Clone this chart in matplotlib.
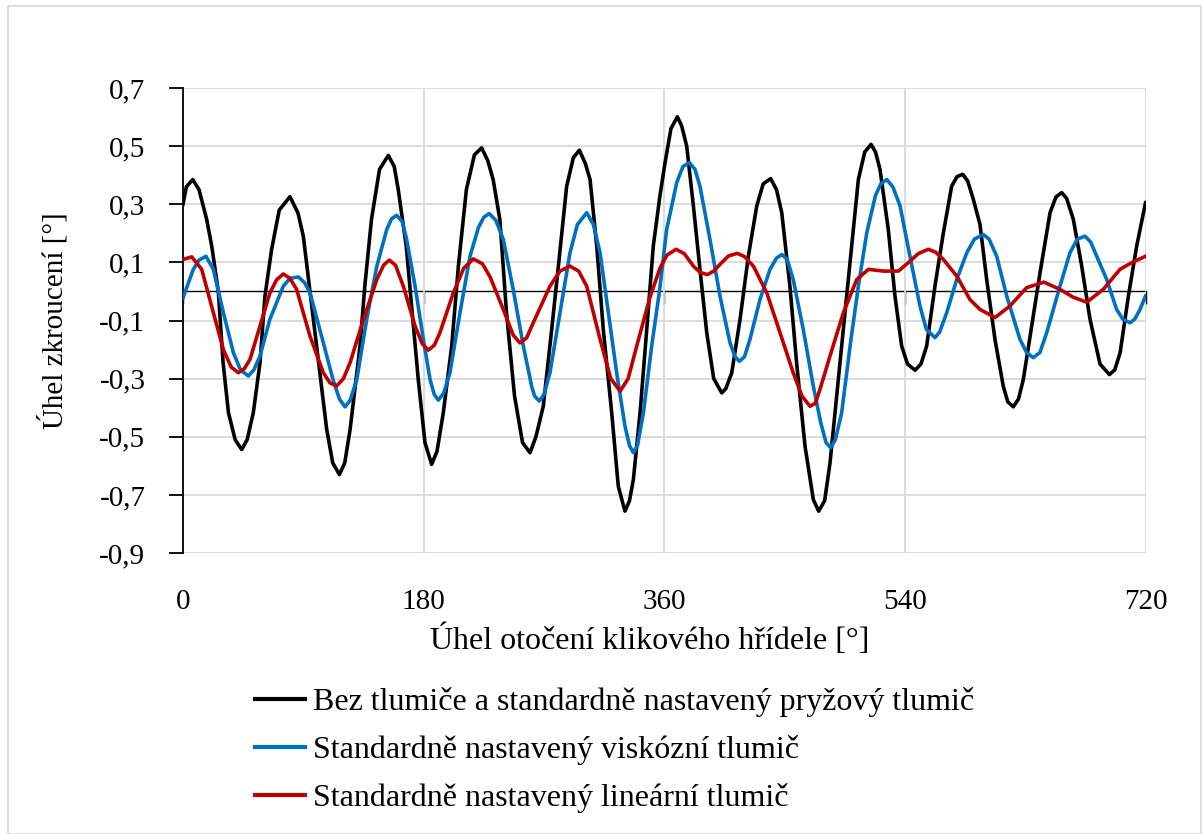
import matplotlib
matplotlib.use('Agg')
import matplotlib.pyplot as plt
from matplotlib.patches import Rectangle
from matplotlib.ticker import FuncFormatter

plt.rcParams['font.family'] = ['Liberation Serif', 'DejaVu Serif']

# data: crank angle [deg] and twist angle [deg]
black_x = [0, 2.5, 7.3, 12, 17.7, 21.5, 26.4, 30, 34, 39, 43.9, 48, 52.6, 57.6, 61.3, 66.3, 72, 80, 86, 90, 95,
           100, 107.5, 112, 117, 121, 125, 132.4, 136, 141, 147, 153.6, 158, 161, 167, 171, 176, 181, 186, 190,
           194.7, 201, 206, 212, 218, 223.4, 228, 232, 237, 242, 248, 254, 259.6, 264, 269.5, 275.8, 280.8, 287,
           292, 296.5, 301, 304.5, 309.5, 314.4, 320.7, 325.6, 330.6, 334, 336.9, 341.9, 346.9, 351.8, 356.8,
           360.6, 365, 369.8, 373, 376.8, 381.8, 386.7, 391.8, 397, 403, 406, 410.5, 416.7, 422.9, 429.2, 434,
           439.6, 444, 447.9, 454, 459, 465.3, 471.5, 475.5, 480, 484, 490.2, 495.2, 500.2, 505.2, 510, 514.7,
           518, 521.4, 527.6, 532.6, 537.6, 542, 547.6, 552, 556.3, 562.5, 568.8, 575, 579, 583.3, 587, 591.2,
           596.2, 601.2, 607.4, 613.6, 617, 621.1, 625, 628.6, 634.9, 641.1, 648.6, 653, 657.3, 661, 666, 672.3,
           678.5, 686, 693, 697, 701, 707.2, 713.4, 720]
black_y = [0.30, 0.36, 0.385, 0.35, 0.248, 0.156, 0.0, -0.245, -0.417, -0.51, -0.544, -0.51, -0.417, -0.245,
           -0.016, 0.145, 0.28, 0.326, 0.27, 0.19, 0.0, -0.188, -0.475, -0.59, -0.63, -0.59, -0.475, -0.188,
           0.018, 0.248, 0.42, 0.468, 0.43, 0.351, 0.156, -0.05, -0.303, -0.52, -0.595, -0.55, -0.418, -0.188,
           0.087, 0.351, 0.47, 0.494, 0.45, 0.385, 0.248, -0.073, -0.36, -0.52, -0.555, -0.5, -0.395, -0.131,
           0.087, 0.362, 0.46, 0.486, 0.44, 0.385, 0.156, -0.131, -0.418, -0.67, -0.756, -0.72, -0.647, -0.418,
           -0.131, 0.156, 0.33, 0.443, 0.56, 0.601, 0.57, 0.5, 0.294, 0.076, -0.142, -0.3, -0.349, -0.335,
           -0.28, -0.096, 0.121, 0.294, 0.37, 0.388, 0.35, 0.271, 0.018, -0.245, -0.532, -0.716, -0.756, -0.72,
           -0.59, -0.303, -0.073, 0.156, 0.385, 0.48, 0.506, 0.48, 0.42, 0.213, -0.016, -0.188, -0.25, -0.271,
           -0.25, -0.188, 0.018, 0.202, 0.362, 0.395, 0.403, 0.38, 0.317, 0.23, 0.041, -0.165, -0.326, -0.38,
           -0.397, -0.37, -0.303, -0.119, 0.064, 0.271, 0.325, 0.34, 0.32, 0.248, 0.087, -0.096, -0.25, -0.286,
           -0.27, -0.211, -0.016, 0.156, 0.305]

blue_x = [0, 7.7, 12, 17.2, 22.7, 30.2, 37.7, 43, 48.9, 53, 57.6, 65, 75, 80, 86.3, 91, 95, 105, 112, 117,
          121.2, 125, 130, 137.4, 145, 152.4, 156, 159.9, 164, 167.3, 173.6, 179.8, 184.8, 188, 191, 195, 199.7,
          207.2, 214.7, 221, 225, 229, 234, 239.6, 247, 254.6, 260.8, 263, 266.5, 270, 274.5, 282, 289.5, 295,
          302, 307, 312, 318.2, 324.4, 330.6, 334, 336.9, 340, 344.4, 350.6, 356.4, 361.8, 369.3, 374, 378.8,
          383, 386.7, 394.2, 401.7, 409.2, 413, 416.2, 420, 424.1, 431.6, 439.1, 444, 447.9, 452, 456.5, 464,
          471.5, 477, 481, 484.5, 488, 492.7, 499, 505.2, 511.5, 518, 522, 526.4, 531, 536.4, 543.8, 551.3, 556,
          562.5, 566, 571.3, 578.8, 586.3, 592, 598.7, 603, 608.7, 616.2, 626.1, 631, 636.1, 641, 646.1, 656,
          663.5, 669, 674.7, 679, 683.5, 691, 698.4, 703, 708.4, 712, 715.9, 720]
blue_y = [-0.022, 0.076, 0.108, 0.121, 0.076, -0.073, -0.211, -0.27, -0.291, -0.27, -0.222, -0.096, 0.018, 0.045,
          0.05, 0.03, -0.005, -0.177, -0.3, -0.37, -0.397, -0.375, -0.303, -0.096, 0.087, 0.213, 0.25, 0.262,
          0.24, 0.179, 0.018, -0.165, -0.303, -0.355, -0.374, -0.35, -0.28, -0.073, 0.121, 0.22, 0.255, 0.268,
          0.245, 0.179, 0.007, -0.188, -0.326, -0.36, -0.377, -0.355, -0.28, -0.073, 0.133, 0.23, 0.271, 0.23,
          0.133, -0.073, -0.28, -0.463, -0.53, -0.555, -0.53, -0.418, -0.188, 0.0, 0.213, 0.374, 0.43, 0.443,
          0.42, 0.362, 0.179, -0.016, -0.177, -0.225, -0.24, -0.225, -0.165, -0.028, 0.076, 0.115, 0.127, 0.11,
          0.041, -0.131, -0.326, -0.45, -0.52, -0.538, -0.51, -0.418, -0.188, 0.018, 0.202, 0.33, 0.37, 0.385,
          0.36, 0.294, 0.121, -0.05, -0.13, -0.159, -0.14, -0.073, 0.041, 0.133, 0.18, 0.196, 0.18, 0.121,
          -0.016, -0.165, -0.21, -0.228, -0.21, -0.142, 0.018, 0.133, 0.18, 0.19, 0.17, 0.121, 0.041, -0.062,
          -0.095, -0.108, -0.095, -0.062, -0.016]

red_x = [0, 6.5, 14, 22.7, 30.2, 36, 41.4, 46, 50.1, 57.6, 65, 70, 75, 80, 85, 95, 105, 110, 115, 120, 125, 135,
         145, 150, 154.3, 159, 164.8, 173.6, 179, 183.5, 188, 192.2, 202.2, 210, 217.2, 224, 229.7, 239.6, 247,
         252, 257, 262, 274.5, 282, 289.5, 296, 302, 312, 320, 327, 333, 339.4, 349.3, 356.8, 362, 368.8, 375,
         381.8, 387, 392.3, 397, 401.7, 408, 414.7, 420, 426.7, 436.7, 446.6, 456.5, 463, 469, 473, 476.5, 484,
         494, 504, 512.7, 523.9, 535.1, 543.8, 550, 557.5, 563, 568.8, 578.8, 588.7, 596.2, 607.4, 618.6, 631.1,
         644, 656, 666, 676, 688.4, 700.9, 710, 720]
red_y = [0.11, 0.119, 0.076, -0.073, -0.2, -0.26, -0.28, -0.265, -0.234, -0.119, -0.005, 0.04, 0.06, 0.045,
         0.007, -0.154, -0.28, -0.315, -0.325, -0.3, -0.245, -0.096, 0.041, 0.09, 0.108, 0.09, 0.018, -0.119,
         -0.18, -0.202, -0.185, -0.142, -0.005, 0.08, 0.112, 0.095, 0.05, -0.062, -0.15, -0.177, -0.16, -0.108,
         0.018, 0.07, 0.087, 0.07, 0.018, -0.165, -0.3, -0.343, -0.3, -0.188, -0.02, 0.08, 0.125, 0.145, 0.13,
         0.087, 0.065, 0.058, 0.07, 0.093, 0.122, 0.131, 0.12, 0.087, -0.005, -0.142, -0.28, -0.36, -0.395,
         -0.385, -0.337, -0.222, -0.073, 0.041, 0.076, 0.07, 0.07, 0.104, 0.13, 0.145, 0.135, 0.11, 0.053,
         -0.028, -0.062, -0.09, -0.05, 0.013, 0.032, 0.007, -0.02, -0.037, 0.007, 0.076, 0.1, 0.121]

labels = ['Bez tlumiče a standardně nastavený pryžový tlumič',
          'Standardně nastavený viskózní tlumič',
          'Standardně nastavený lineární tlumič']
colors = ['#000000', '#0070C0', '#C00000']

x_ticks = [0, 180, 360, 540, 720]
y_ticks = [-0.9, -0.7, -0.5, -0.3, -0.1, 0.1, 0.3, 0.5, 0.7]

W, H = 1202, 834
fs_tick = 21
fs_lab = 23

fig = plt.figure(figsize=(W / 100, H / 100), dpi=100)
fig.patches.append(Rectangle((8 / W, 0), 1193 / W, 1 - 6 / H, transform=fig.transFigure,
                             fill=False, edgecolor='#d9d9d9', linewidth=1.2))
ax = fig.add_axes([183 / W, 1 - 553 / H, 962.5 / W, 465 / H])

for xs, ys, c, lab in zip([black_x, blue_x, red_x], [black_y, blue_y, red_y], colors, labels):
    ax.plot(xs, ys, color=c, linewidth=2.6, label=lab, zorder=3, solid_joinstyle='round')

ax.set_xlim(0, 720)
ax.set_ylim(-0.9, 0.7)
ax.set_xticks(x_ticks)
ax.set_yticks(y_ticks)
ax.yaxis.set_major_formatter(FuncFormatter(lambda v, p: ('%.1f' % v).replace('.', ',')))
ax.grid(True, color='#d9d9d9', linewidth=1.3, zorder=0)
ax.set_axisbelow(True)

for s in ['top', 'right', 'bottom']:
    ax.spines[s].set_visible(False)
ax.spines['left'].set_color('black')
ax.spines['left'].set_linewidth(1.3)
ax.tick_params(axis='y', direction='out', length=10, width=1.3, color='black', labelsize=fs_tick, pad=17)
ax.tick_params(axis='x', length=0, labelsize=fs_tick, pad=26)

# horizontal axis line crossing at zero, with its tick marks pointing down
sec = ax.secondary_xaxis(0.9 / 1.6)
sec.set_alignment('bottom')
sec.set_xticks(x_ticks)
sec.xaxis.set_ticklabels([])
sec.tick_params(axis='x', direction='out', length=9, width=1, color='black')
sec.spines['bottom'].set_color('black')
sec.spines['bottom'].set_linewidth(1)

ax.set_xlabel('Úhel otočení klikového hřídele [°]', fontsize=fs_lab, labelpad=7)
ax.xaxis.label.set_x((650 - 183) / 962.5)
ax.set_ylabel('Úhel zkroucení [°]', fontsize=fs_tick, labelpad=22)

fig.legend(loc='center left', bbox_to_anchor=(255 / W, 1 - 750 / H), frameon=False, fontsize=fs_lab,
           handlelength=50 / 32, handletextpad=8 / 32, labelspacing=0.56, borderpad=0, borderaxespad=0)
for line in fig.legends[0].get_lines():
    line.set_linewidth(3)

fig.savefig('out.png', dpi=100)
